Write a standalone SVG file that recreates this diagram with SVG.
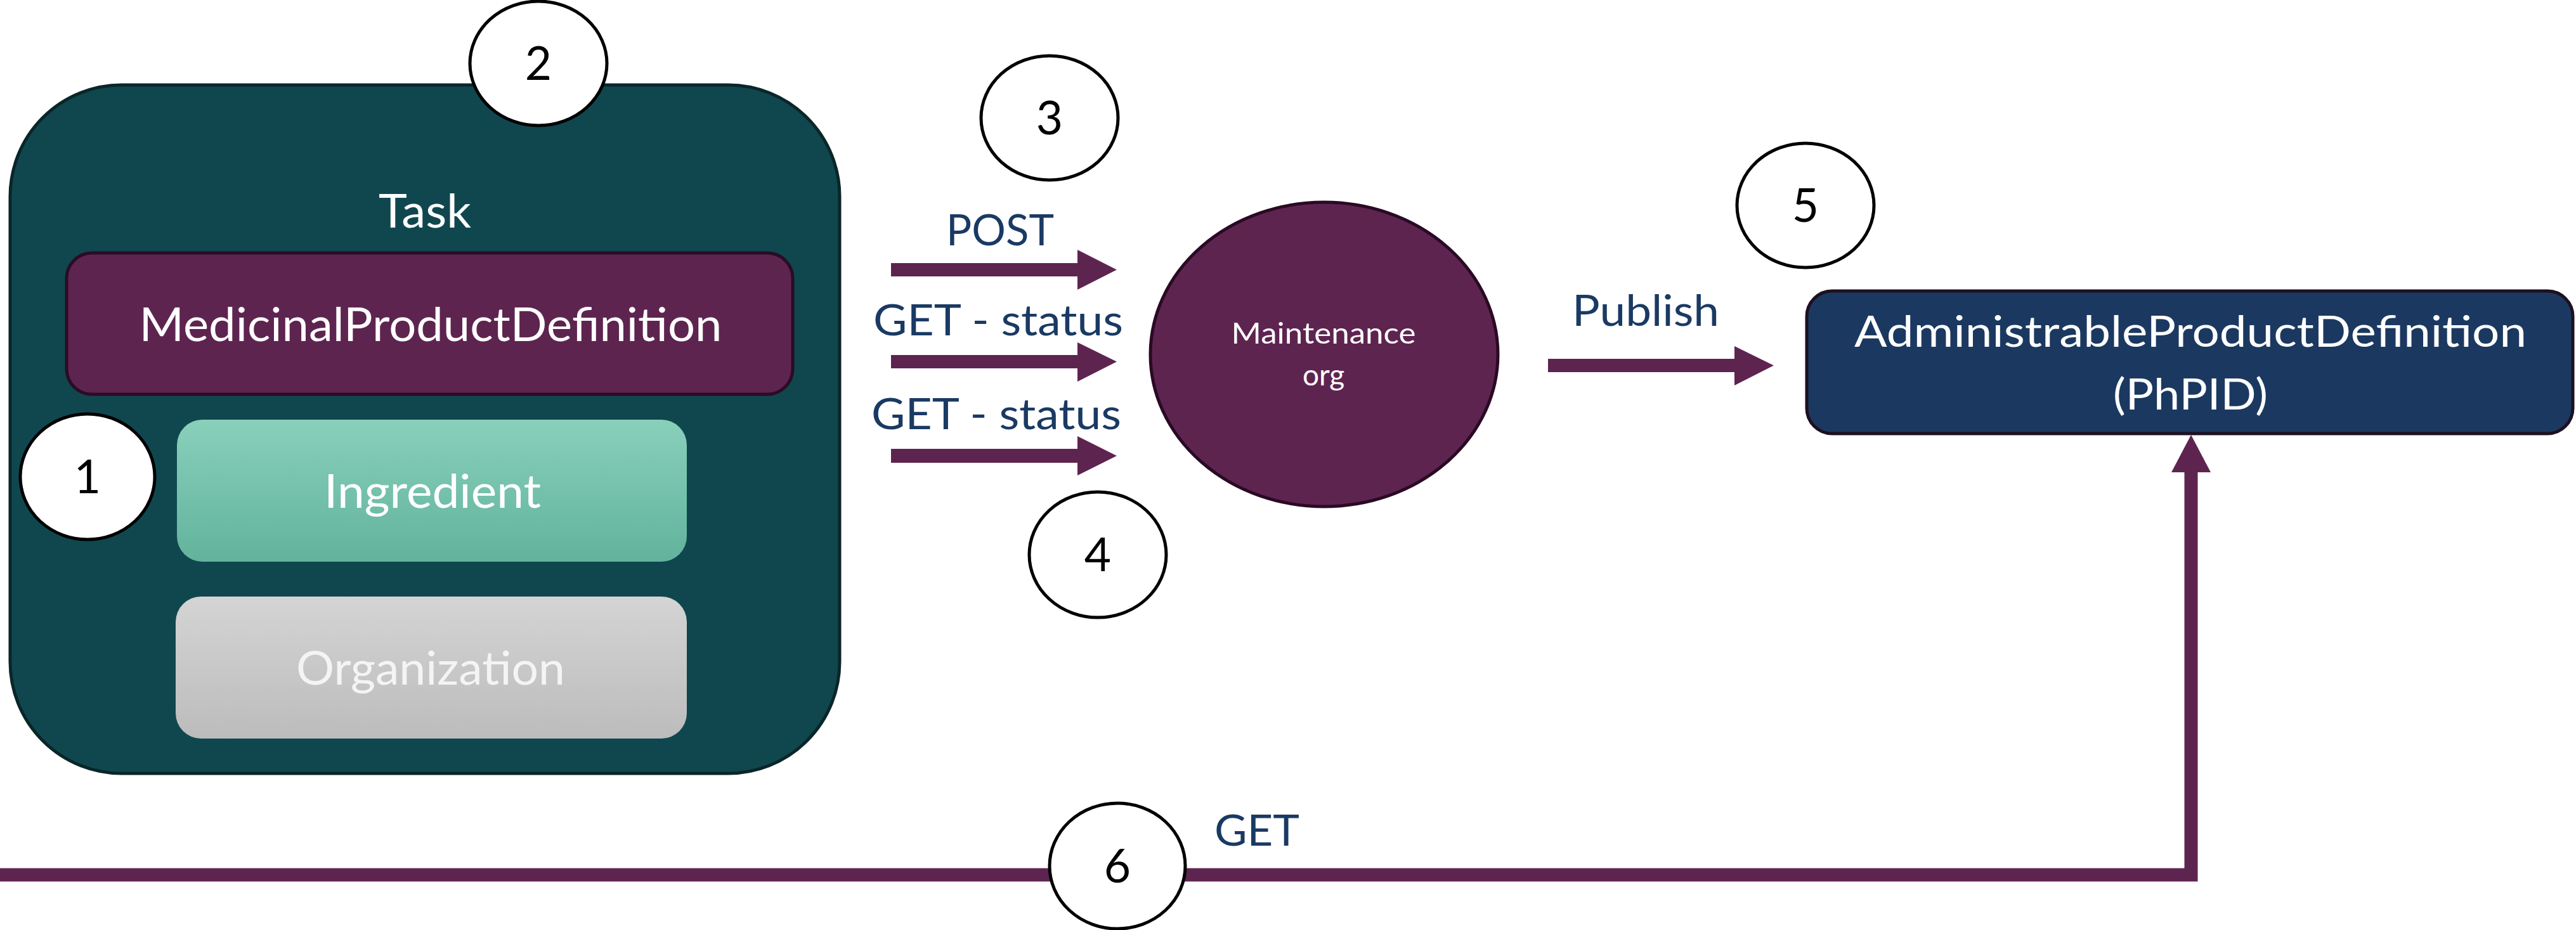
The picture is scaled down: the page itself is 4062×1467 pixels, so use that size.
<svg xmlns="http://www.w3.org/2000/svg" width="4062" height="1467" viewBox="0 0 4062 1467">
<defs>
<linearGradient id="gIng" x1="0" y1="0" x2="0" y2="1"><stop offset="0" stop-color="#89D0BB"/><stop offset="1" stop-color="#62B39C"/></linearGradient>
<linearGradient id="gOrg" x1="0" y1="0" x2="0" y2="1"><stop offset="0" stop-color="#D4D4D4"/><stop offset="1" stop-color="#BCBCBC"/></linearGradient>
</defs>
<style>
text{font-family:Lato,"Open Sans","Noto Sans",sans-serif;text-anchor:middle}
.w{fill:#FFFFFF}
.lbl{fill:#1A3A63;font-size:68px}
.num{fill:#000000;font-size:73px}
.badge{fill:#FFFFFF;stroke:#000000;stroke-width:5}
.conn{fill:#5E2450}
</style>
<rect width="4062" height="1467" fill="#FFFFFF"/>
<g id="task">
<rect x="16" y="134" width="1308" height="1086" rx="176" ry="176" fill="#10474F" stroke="#0A2629" stroke-width="5"/>
<text class="w" x="670" y="359" font-size="74" textLength="146" lengthAdjust="spacingAndGlyphs">Task</text>
</g>
<g id="mpd">
<rect x="105" y="399" width="1145" height="223" rx="40" ry="40" fill="#5E2450" stroke="#2A0C24" stroke-width="5"/>
<text class="w" x="679" y="538" font-size="74" textLength="919" lengthAdjust="spacingAndGlyphs">MedicinalProductDefinition</text>
</g>
<g id="ingredient">
<rect x="279" y="662" width="804" height="224" rx="40" ry="40" fill="url(#gIng)"/>
<text class="w" x="682" y="801" font-size="73" textLength="342" lengthAdjust="spacingAndGlyphs">Ingredient</text>
</g>
<g id="organization">
<rect x="277" y="941" width="806" height="224" rx="40" ry="40" fill="url(#gOrg)"/>
<text x="679" y="1080" font-size="74" fill="#F4F4F4" textLength="424" lengthAdjust="spacingAndGlyphs">Organization</text>
</g>
<g id="maintenance">
<ellipse cx="2088" cy="559" rx="274" ry="240" fill="#5E2450" stroke="#2A0A24" stroke-width="5"/>
<text class="w" x="2087" y="542" font-size="46" textLength="291" lengthAdjust="spacingAndGlyphs">Maintenance</text>
<text class="w" x="2087" y="608" font-size="46">org</text>
</g>
<g id="apd">
<rect x="2849" y="459" width="1208" height="225" rx="40" ry="40" fill="#1B3960" stroke="#1E1020" stroke-width="5"/>
<text class="w" x="3454" y="547" font-size="68" textLength="1060" lengthAdjust="spacingAndGlyphs">AdministrableProductDefinition</text>
<text class="w" x="3454" y="646" font-size="68" textLength="244" lengthAdjust="spacingAndGlyphs">(PhPID)</text>
</g>
<g id="connectors">
<path class="conn" d="M1405,415 H1699 V394 L1761,425.5 L1699,457 V436 H1405 Z"/>
<path class="conn" d="M1405,560 H1699 V540 L1761,570.5 L1699,602 V581 H1405 Z"/>
<path class="conn" d="M1405,708 H1699 V688 L1761,719 L1699,750 V730 H1405 Z"/>
<path class="conn" d="M2441,566 H2735 V546 L2797,576.5 L2735,608 V587 H2441 Z"/>
<polyline points="0,1380 3455,1380 3455,740" fill="none" stroke="#5E2450" stroke-width="21" stroke-linejoin="miter"/>
<polygon class="conn" points="3455,686 3486,745 3424,745"/>
<text class="lbl" x="1577" y="387" textLength="170" lengthAdjust="spacingAndGlyphs">POST</text>
<text class="lbl" x="1574" y="529" textLength="394" lengthAdjust="spacingAndGlyphs">GET - status</text>
<text class="lbl" x="1571" y="677" textLength="394" lengthAdjust="spacingAndGlyphs">GET - status</text>
<text class="lbl" x="2595" y="514" textLength="232" lengthAdjust="spacingAndGlyphs">Publish</text>
<text class="lbl" x="1982" y="1334" textLength="134" lengthAdjust="spacingAndGlyphs">GET</text>
</g>
<g id="badge1"><ellipse class="badge" cx="138" cy="752" rx="106" ry="99"/><text class="num" x="138" y="778">1</text></g>
<g id="badge2"><ellipse class="badge" cx="849" cy="100" rx="108" ry="98"/><text class="num" x="849" y="126">2</text></g>
<g id="badge3"><ellipse class="badge" cx="1655" cy="186" rx="108" ry="98"/><text class="num" x="1655" y="212">3</text></g>
<g id="badge4"><ellipse class="badge" cx="1731" cy="875" rx="108" ry="99"/><text class="num" x="1731" y="901">4</text></g>
<g id="badge5"><ellipse class="badge" cx="2847" cy="324" rx="108" ry="98"/><text class="num" x="2847" y="350">5</text></g>
<g id="badge6"><ellipse class="badge" cx="1762" cy="1366" rx="107" ry="99"/><text class="num" x="1762" y="1392">6</text></g>
</svg>
